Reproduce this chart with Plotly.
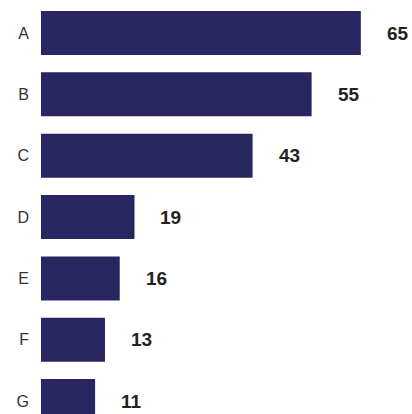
import plotly.graph_objects as go

categories = ["A", "B", "C", "D", "E", "F", "G"]
values = [65, 55, 43, 19, 16, 13, 11]

bar_color = "#282661"

fig = go.Figure(
    go.Bar(
        x=values,
        y=categories,
        orientation="h",
        marker=dict(color=bar_color, line=dict(width=0)),
        hoverinfo="skip",
    )
)

annotations = [
    dict(
        x=v, y=c, xref="x", yref="y", text=str(v), showarrow=False,
        xanchor="left", yanchor="middle", xshift=24,
        font=dict(family="Liberation Sans, Arial, sans-serif", size=19, color="#222222", weight="bold"),
    )
    for c, v in zip(categories, values)
]

fig.update_layout(
    width=412,
    height=414,
    margin=dict(l=41, r=0, t=0, b=0, autoexpand=False),
    paper_bgcolor="white",
    plot_bgcolor="white",
    bargap=0.283,
    showlegend=False,
    annotations=annotations,
    font=dict(family="Liberation Sans, Arial, sans-serif"),
    xaxis=dict(range=[0, 75.4], visible=False, fixedrange=True),
    yaxis=dict(
        range=[6.21, -0.538],
        showgrid=False,
        zeroline=False,
        showline=False,
        ticks="",
        ticklabelstandoff=11,
        tickfont=dict(size=16, color="#333333"),
        fixedrange=True,
        automargin=False,
    ),
)

fig.write_html(
    "out.html",
    config={"displayModeBar": False},
    post_script="document.body.style.margin='0';document.body.style.overflow='hidden';",
)
